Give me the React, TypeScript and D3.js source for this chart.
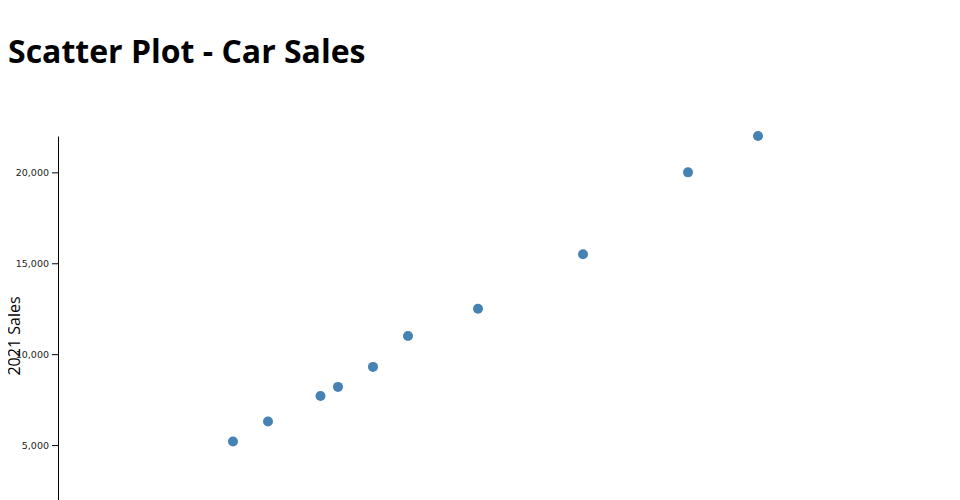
import React, { useEffect, useRef } from "react";
import * as d3 from "d3";

const adSpend = [5, 6, 7.5, 8, 9, 10, 12, 15, 18, 20];
const sales2021 = [5200, 6300, 7700, 8200, 9300, 11000, 12500, 15500, 20000, 22000];
const yTickCount = 5;
const titleText = "Scatter Plot - Car Sales";
const yLabel = "2021 Sales";

export default function App() {
  const ref = useRef<SVGSVGElement | null>(null);
  useEffect(() => {
    const margin = { top: 42, right: 50, bottom: 50, left: 50 };
    const width = 700;
    const height = 400;
    const svg = d3.select(ref.current);
    svg.selectAll("*").remove();
    const g = svg.append("g").attr("transform", `translate(${margin.left},${margin.top})`);
    const x = d3.scaleLinear().domain([0, d3.max(adSpend) as number]).range([0, width]);
    const y = d3.scaleLinear().domain([0, d3.max(sales2021) as number]).range([height, 0]);
    g.append("g").attr("transform", `translate(0,${height})`).call(d3.axisBottom(x).tickSizeOuter(0));
    const ya = g.append("g").call(d3.axisLeft(y).ticks(yTickCount).tickSizeOuter(0));
    ya.selectAll("text").style("font-family", "'DejaVu Sans'").style("font-size", "9.5px").attr("fill", "#222");
    g.append("text")
      .attr("transform", "rotate(-90)")
      .attr("x", -height / 2)
      .attr("y", -38)
      .attr("text-anchor", "middle")
      .style("font-family", "'Open Sans'")
      .style("font-size", "16px")
      .text(yLabel);
    const data = adSpend.map((a, i) => ({ a, s: sales2021[i] }));
    g.selectAll("circle")
      .data(data)
      .join("circle")
      .attr("cx", (d) => x(d.a))
      .attr("cy", (d) => y(d.s))
      .attr("r", 5)
      .attr("fill", "steelblue");
  }, []);
  return (
    <div style={{ fontFamily: "'Open Sans'" }}>
      <h1>{titleText}</h1>
      <svg ref={ref} width={800} height={500} style={{ display: "block" }} />
    </div>
  );
}
